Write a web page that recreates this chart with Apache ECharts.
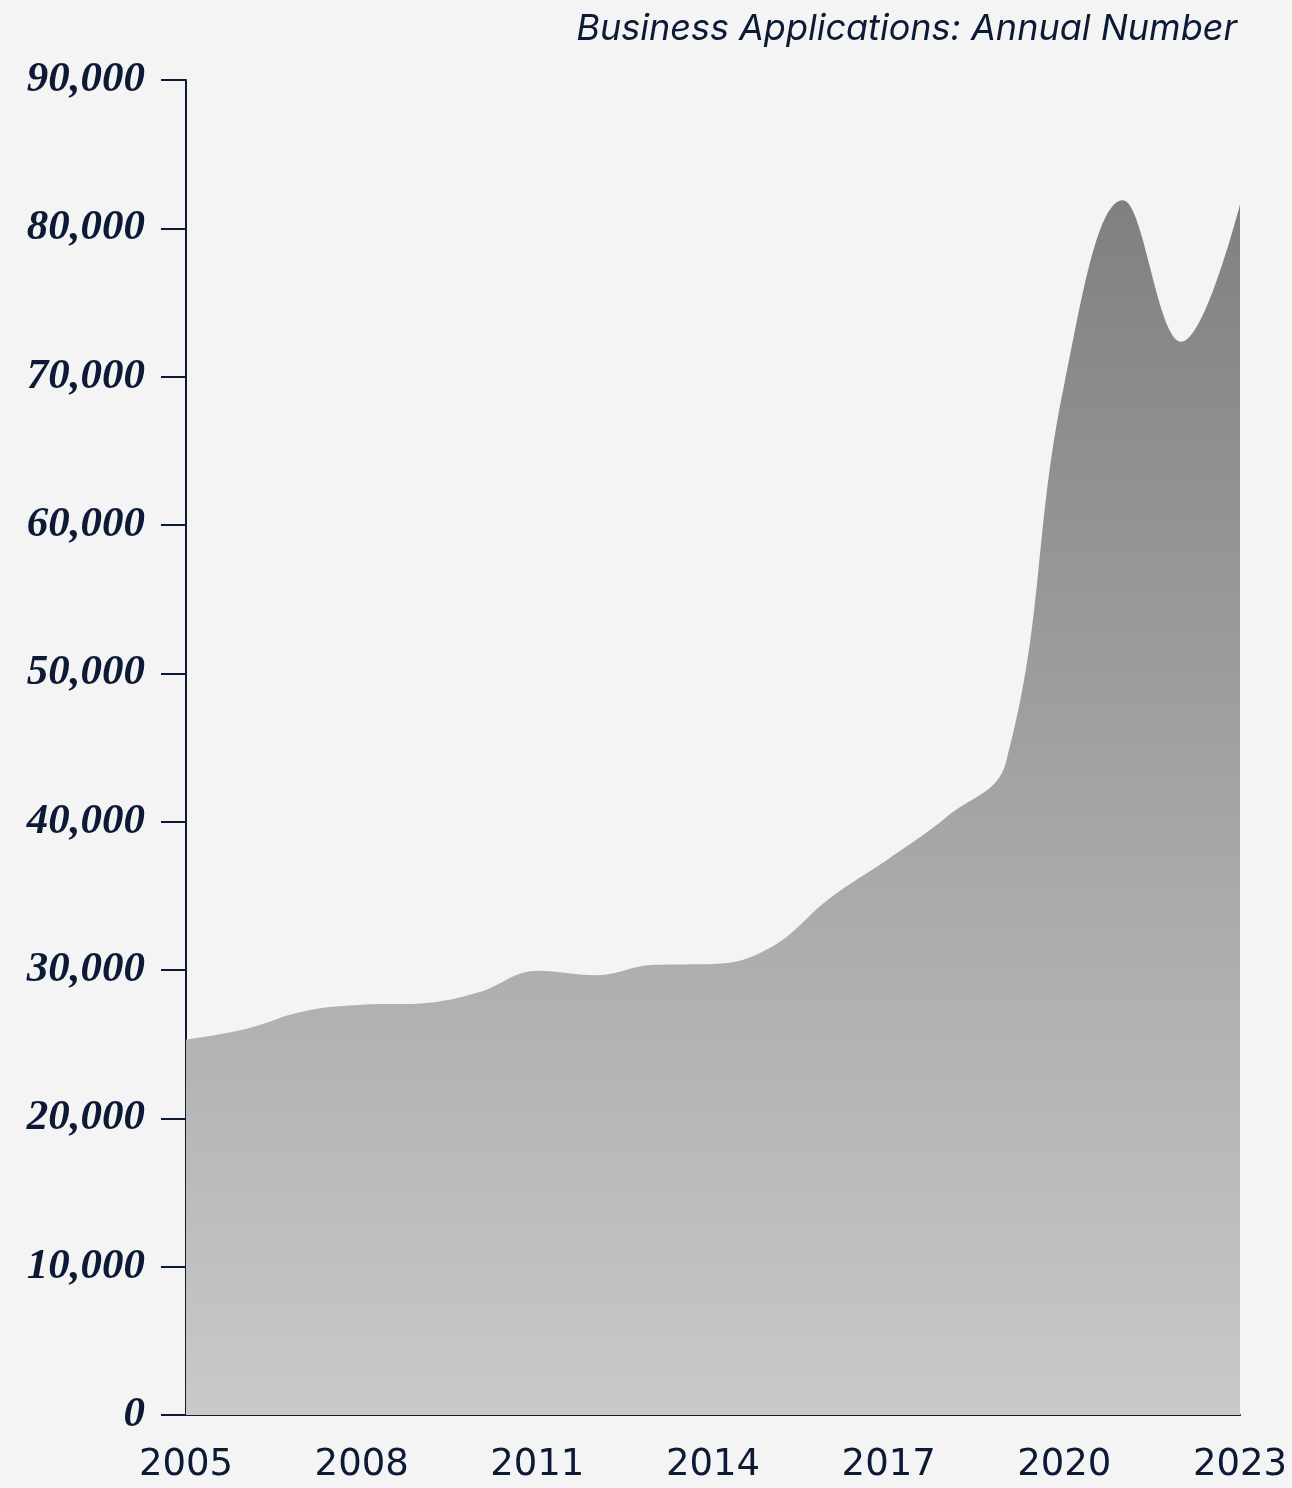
<!DOCTYPE html>
<html>
<head>
<meta charset="utf-8">
<style>
  html, body { margin: 0; padding: 0; background: #f4f4f4; }
  #chart { width: 1292px; height: 1488px; }
</style>
<script src="https://cdn.jsdelivr.net/npm/echarts@6/dist/echarts.min.js"></script>
</head>
<body>
<div id="chart"></div>
<script>
const years = ['2005','2006','2007','2008','2009','2010','2011','2012','2013','2014','2015','2016','2017','2018','2019','2020','2021','2022','2023'];
const applications = [25300, 26000, 27200, 27650, 27750, 28500, 29950, 29650, 30350, 30400, 31550, 34850, 37500, 40350, 43950, 69500, 81900, 72350, 81600];
const titleText = 'Business Applications: Annual Number';

const navy = '#0c1a36';
const chart = echarts.init(document.getElementById('chart'), null, { renderer: 'canvas' });
chart.setOption({
  backgroundColor: '#f4f4f4',
  animation: false,
  title: {
    text: titleText,
    right: 50,
    top: 6,
    textStyle: {
      fontFamily: 'Inter',
      fontStyle: 'italic',
      fontWeight: 'normal',
      fontSize: 36,
      color: navy
    }
  },
  grid: { left: 186, right: 52, top: 80, bottom: 73, containLabel: false },
  xAxis: {
    type: 'category',
    data: years,
    boundaryGap: false,
    axisLine: { show: true, lineStyle: { color: navy, width: 2 } },
    axisTick: { show: false },
    axisLabel: {
      interval: 2,
      margin: 32,
      fontFamily: 'DejaVu Sans',
      fontSize: 37,
      color: navy
    },
    splitLine: { show: false }
  },
  yAxis: {
    type: 'value',
    min: 0,
    max: 90000,
    interval: 10000,
    axisLine: { show: true, lineStyle: { color: navy, width: 2 } },
    axisTick: { show: true, length: 25, lineStyle: { color: navy, width: 2 } },
    axisLabel: {
      margin: 41,
      fontFamily: 'Liberation Serif',
      fontStyle: 'italic',
      fontWeight: 'bold',
      fontSize: 43,
      color: navy,
      formatter: function (v) { return v.toLocaleString('en-US'); }
    },
    splitLine: { show: false }
  },
  series: [{
    type: 'line',
    data: applications,
    smooth: 0.4,
    showSymbol: false,
    lineStyle: { width: 0 },
    areaStyle: {
      opacity: 1,
      color: new echarts.graphic.LinearGradient(0, 0, 0, 1, [
        { offset: 0, color: '#808080' },
        { offset: 1, color: '#c9c9c9' }
      ])
    },
    z: 1
  }]
});
</script>
</body>
</html>
